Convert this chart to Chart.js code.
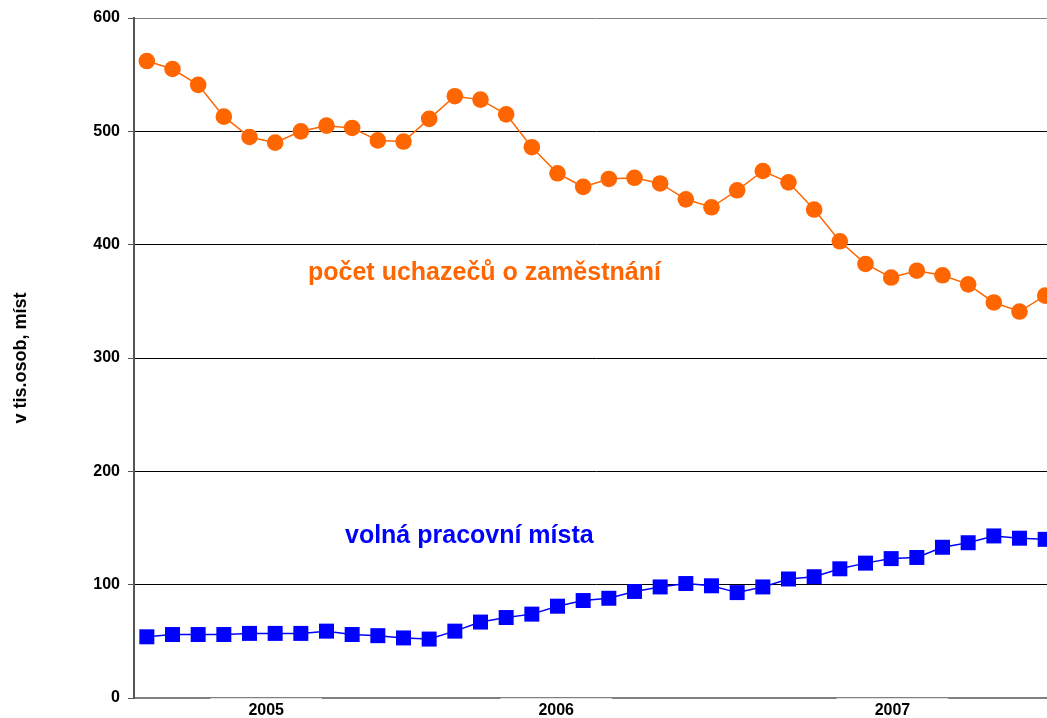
<!DOCTYPE html>
<html>
<head>
<meta charset="utf-8">
<script src="https://cdn.jsdelivr.net/npm/chart.js@4.4.0/dist/chart.umd.min.js"></script>
<style>
  html, body { margin: 0; padding: 0; background: #fff; overflow: hidden; }
  #trhPrace { display: block; }
</style>
</head>
<body>
<canvas id="trhPrace" width="1060" height="718" style="width:1060px;height:718px"></canvas>
<script>
// mesicni hodnoty leden 2005 - prosinec 2007, v tis.
const months = [
    '2005-01', '2005-02', '2005-03', '2005-04', '2005-05', '2005-06',
    '2005-07', '2005-08', '2005-09', '2005-10', '2005-11', '2005-12',
    '2006-01', '2006-02', '2006-03', '2006-04', '2006-05', '2006-06',
    '2006-07', '2006-08', '2006-09', '2006-10', '2006-11', '2006-12',
    '2007-01', '2007-02', '2007-03', '2007-04', '2007-05', '2007-06',
    '2007-07', '2007-08', '2007-09', '2007-10', '2007-11', '2007-12'
];
const uchazeci = [
    562, 555, 541, 513, 495, 490, 500, 505, 503, 492, 491, 511,
    531, 528, 515, 486, 463, 451, 458, 459, 454, 440, 433, 448,
    465, 455, 431, 403, 383, 371, 377, 373, 365, 349, 341, 355
];
const volnaMista = [
    54, 56, 56, 56, 57, 57, 57, 59, 56, 55, 53, 52,
    59, 67, 71, 74, 81, 86, 88, 94, 98, 101, 99, 93,
    98, 105, 107, 114, 119, 123, 124, 133, 137, 143, 141, 140
];
// popisky roku na ose x (pozice v indexech mesicu, jak jsou v originale)
const yearLabels = ['2005', '2006', '2007'];
const yearTickPos = [4.65, 15.95, 29.05];
const yTicks = [0, 100, 200, 300, 400, 500, 600];

const toPoints = arr => arr.map((v, i) => ({ x: i, y: v }));
const FONT = '"Liberation Sans", Arial, sans-serif';

// textove popisky serii primo v grafu
const seriesLabels = {
    id: 'seriesLabels',
    afterDatasetsDraw(chart) {
        const { ctx, scales: { x, y } } = chart;
        ctx.save();
        ctx.font = 'bold 25px ' + FONT;
        ctx.textBaseline = 'middle';
        ctx.textAlign = 'left';
        ctx.fillStyle = '#FF6600';
        ctx.fillText('počet uchazečů o zaměstnání', x.getPixelForValue(6.28), y.getPixelForValue(375));
        ctx.fillStyle = '#0000FF';
        ctx.fillText('volná pracovní místa', x.getPixelForValue(7.72), y.getPixelForValue(143));
        ctx.restore();
    }
};

const ctx = document.getElementById('trhPrace').getContext('2d');
window.trhChart = new Chart(ctx, {
    type: 'line',
    data: {
        datasets: [{
            label: 'počet uchazečů o zaměstnání',
            data: toPoints(uchazeci),
            borderColor: '#FF6600',
            backgroundColor: '#FF6600',
            borderWidth: 1.5,
            pointStyle: 'circle',
            pointRadius: 8.3,
            pointBorderWidth: 0,
            tension: 0
        }, {
            label: 'volná pracovní místa',
            data: toPoints(volnaMista),
            borderColor: '#0000FF',
            backgroundColor: '#0000FF',
            borderWidth: 1.5,
            pointStyle: 'rect',
            pointRadius: 10.6,
            pointBorderWidth: 0,
            tension: 0
        }]
    },
    options: {
        responsive: false,
        animation: false,
        layout: { autoPadding: false, padding: { top: 18, right: 2, bottom: 0, left: 0 } },
        plugins: {
            legend: { display: false },
            tooltip: { enabled: false }
        },
        scales: {
            x: {
                type: 'linear',
                min: -0.5,
                max: 35.5,
                afterBuildTicks: scale => {
                    scale.ticks = yearTickPos.map(v => ({ value: v }));
                },
                afterFit: scale => { scale.height = 20; },
                grid: { display: false, drawTicks: false, tickLength: 0 },
                border: { display: true, color: '#808080', width: 2 },
                ticks: {
                    autoSkip: false,
                    maxRotation: 0,
                    padding: 3,
                    color: '#000',
                    font: { family: FONT, size: 16, weight: 'bold' },
                    callback: (value, i) => yearLabels[i],
                    showLabelBackdrop: true,
                    backdropColor: 'rgba(255,255,255,0.75)',
                    backdropPadding: { left: 38, right: 38, top: 10, bottom: 2 }
                }
            },
            y: {
                min: 0,
                max: 600,
                afterBuildTicks: scale => {
                    scale.ticks = yTicks.map(v => ({ value: v }));
                },
                afterFit: scale => { scale.width = 134; },
                grid: {
                    color: c => (c.tick && c.tick.value === 600) ? '#808080' : '#000',
                    lineWidth: 1,
                    tickLength: 6,
                    tickColor: '#555'
                },
                border: { display: true, color: '#555', width: 2 },
                ticks: {
                    padding: 8,
                    color: '#000',
                    font: { family: FONT, size: 16, weight: 'bold' }
                },
                title: {
                    display: true,
                    text: 'v tis.osob, míst',
                    color: '#000',
                    padding: { top: 10, bottom: 0 },
                    font: { family: FONT, size: 18, weight: 'bold' }
                }
            }
        }
    },
    plugins: [seriesLabels]
});
</script>
</body>
</html>
